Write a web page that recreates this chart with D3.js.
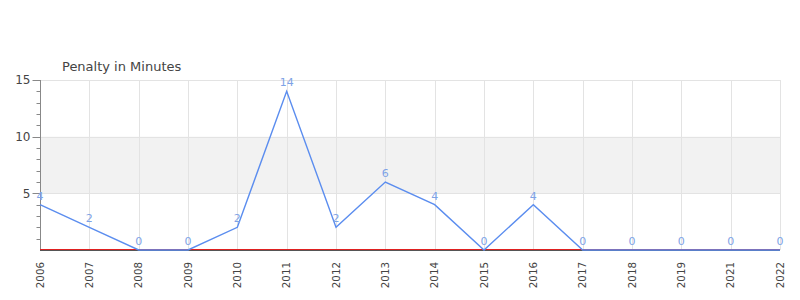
<!DOCTYPE html>
<html>
<head>
  <meta charset="utf-8">
  <script src="https://d3js.org/d3.v7.min.js"></script>
  <style>
    body, html { margin: 0; padding: 0; background: #fff; }
    svg { display: block; font-family: 'DejaVu Sans', sans-serif; }
  </style>
</head>
<body>
  <svg></svg>
  <script>
    // chart data
    const years = ["2006", "2007", "2008", "2009", "2010", "2011", "2012", "2013",
                   "2014", "2015", "2016", "2017", "2018", "2019", "2021", "2022"];
    const penalty = [4, 2, 0, 0, 2, 14, 2, 6, 4, 0, 4, 0, 0, 0, 0, 0];
    const majorTicks = [5, 10, 15];
    const band = [5, 10];

    const width = 800;
    const height = 300;
    const marginTop = 80;
    const marginRight = 20;
    const marginBottom = 50;
    const marginLeft = 40;

    const svg = d3.select("svg")
      .attr("width", width)
      .attr("height", height)
      .attr("viewBox", [0, 0, width, height]);

    const x = d3.scalePoint()
      .domain(years)
      .range([marginLeft, width - marginRight]);

    const y = d3.scaleLinear()
      .domain([0, 15])
      .range([height - marginBottom, marginTop]);

    // shaded band
    svg.append("rect")
      .attr("x", marginLeft)
      .attr("width", width - marginRight - marginLeft)
      .attr("y", y(band[1]))
      .attr("height", y(band[0]) - y(band[1]))
      .attr("fill", "#f2f2f2");

    // grid
    svg.append("g")
      .attr("stroke", "#e3e3e3")
      .selectAll("line")
      .data(years)
      .join("line")
        .attr("x1", d => Math.round(x(d)) + 0.5)
        .attr("x2", d => Math.round(x(d)) + 0.5)
        .attr("y1", y(15))
        .attr("y2", y(0));

    svg.append("g")
      .attr("stroke", "#e3e3e3")
      .selectAll("line")
      .data(majorTicks)
      .join("line")
        .attr("x1", marginLeft)
        .attr("x2", width - marginRight)
        .attr("y1", d => Math.round(y(d)) + 0.5)
        .attr("y2", d => Math.round(y(d)) + 0.5);

    // y axis with minor ticks
    const yAxis = svg.append("g")
      .attr("transform", `translate(${marginLeft + 0.5},0)`);
    yAxis.append("line")
      .attr("y1", y(15)).attr("y2", y(0))
      .attr("stroke", "#888");
    yAxis.selectAll(".minor")
      .data(d3.range(1, 16))
      .join("line")
        .attr("x1", d => majorTicks.includes(d) ? -8 : -4)
        .attr("x2", 0)
        .attr("y1", d => Math.round(y(d)) + 0.5)
        .attr("y2", d => Math.round(y(d)) + 0.5)
        .attr("stroke", "#888");
    yAxis.selectAll("text")
      .data(majorTicks)
      .join("text")
        .attr("x", -10)
        .attr("y", d => y(d))
        .attr("dy", "0.35em")
        .attr("text-anchor", "end")
        .attr("font-size", 12)
        .attr("fill", "#444")
        .text(d => d);

    // baseline
    svg.append("line")
      .attr("x1", marginLeft).attr("x2", width - marginRight)
      .attr("y1", y(0) - 0.5).attr("y2", y(0) - 0.5)
      .attr("stroke", "#e02020");
    svg.append("line")
      .attr("x1", marginLeft).attr("x2", width - marginRight)
      .attr("y1", y(0) + 0.5).attr("y2", y(0) + 0.5)
      .attr("stroke", "#555");

    // x axis labels
    svg.append("g")
      .selectAll("text")
      .data(years)
      .join("text")
        .attr("transform", d => `translate(${x(d)},${y(0) + 12}) rotate(-90)`)
        .attr("dy", "0.35em")
        .attr("text-anchor", "end")
        .attr("font-size", 10.3)
        .attr("fill", "#444")
        .text(d => d);

    // line
    svg.append("path")
      .datum(penalty)
      .attr("fill", "none")
      .attr("stroke", "#5b8def")
      .attr("stroke-width", 1.4)
      .attr("d", d3.line()
        .x((d, i) => x(years[i]))
        .y(d => y(d)));

    // value labels
    svg.append("g")
      .selectAll("text")
      .data(penalty)
      .join("text")
        .attr("x", (d, i) => x(years[i]))
        .attr("y", d => y(d) - 5)
        .attr("text-anchor", "middle")
        .attr("font-size", 11)
        .attr("fill", "#7ea3e6")
        .text(d => d);

    // title
    svg.append("text")
      .attr("x", 62)
      .attr("y", 71)
      .attr("font-size", 13)
      .attr("fill", "#444")
      .text("Penalty in Minutes");
  </script>
</body>
</html>
